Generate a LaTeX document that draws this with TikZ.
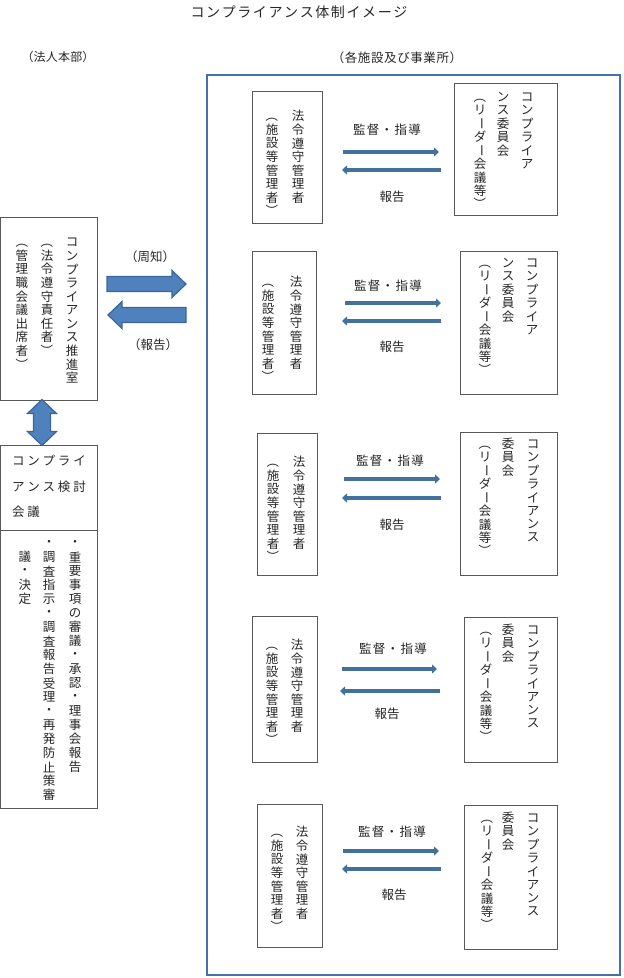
\documentclass[tikz,border=0pt]{standalone}
\usepackage{fontspec}
\setmainfont{Noto Sans CJK JP}
\usetikzlibrary{arrows.meta}
\definecolor{bfill}{HTML}{4F81BD}
\definecolor{bdraw}{HTML}{3A679B}
\definecolor{flowc}{HTML}{41719C}
\definecolor{framec}{HTML}{4472A8}
\definecolor{txt}{HTML}{262626}
\newcommand\vL{\rotatebox[origin=c]{-90}{（}}
\newcommand\vR{\rotatebox[origin=c]{-90}{）}}
\newcommand\vB{\rotatebox[origin=c]{-90}{ー}}
\ExplSyntaxOn
\NewDocumentCommand\vcol{O{13.6pt}m}
 {
  \vtop
   {
    \offinterlineskip
    \tl_map_inline:nn {#2}
     {
      \vbox_to_ht:nn {#1} { \vss \hbox_to_wd:nn {1em} { \hss ##1 \hss } \vss }
     }
   }
 }
\NewDocumentCommand\hsp{O{15pt}m}
 {
  \tl_map_inline:nn {#2} { \hbox_to_wd:nn {#1} { \hss ##1 \hss } }
 }
\ExplSyntaxOff
\begin{document}
\begin{tikzpicture}[x=1pt,y=-1pt,
  every node/.style={text=txt},
  box/.style={draw=black!65,line width=0.8pt,inner sep=0,rectangle},
  vt/.style={inner sep=0,anchor=north,font=\fontsize{12.5}{13}\selectfont},
  lbl/.style={inner sep=0,font=\fontsize{12.5}{13}\selectfont},
  blockarrow/.style={fill=bfill,draw=bdraw,line width=1.2pt,line join=miter},
  flow/.style={draw=flowc,line width=4.5pt,-{Triangle[length=5pt,width=9pt]}},
  framebox/.style={draw=framec,line width=2.5pt}]
\useasboundingbox (0,0) rectangle (624,978);

% titles
\node[inner sep=0,font=\fontsize{14}{16}\selectfont] (title) at (299,12) {\hsp[15.6pt]{コンプライアンス体制イメージ}};
\node[inner sep=0,font=\fontsize{12}{14}\selectfont] (hq) at (58,57) {\hsp[12.2pt]{（法人本部）}};
\node[inner sep=0,font=\fontsize{12.5}{14}\selectfont] (fac) at (397,58) {\hsp[13.1pt]{（各施設及び事業所）}};

% outer frame
\draw[framebox] (207,75) rectangle (620,975);

% headquarters box
\node[box,minimum width=96.5,minimum height=183] (hqbox) at (48.75,308.5) {};
\node[vt] (hq1) at (72,235) {\vcol{コンプライアンス推進室}};
\node[vt] (hq2) at (47,235) {\vcol{\vL 法令遵守責任者\vR}};
\node[vt] (hq3) at (22,235) {\vcol{\vL 管理職会議出席者\vR}};

% block arrows (周知 / 報告)
\draw[blockarrow] (107,276.5) -- (172,276.5) -- (172,270.5) -- (186,284) -- (172,297.5) -- (172,291.5) -- (107,291.5) -- cycle;
\draw[blockarrow] (186,307.5) -- (122,307.5) -- (122,301.5) -- (108,315) -- (122,328.5) -- (122,322.5) -- (186,322.5) -- cycle;
\node[lbl] (shuchi) at (150,257) {（周知）};
\node[lbl] (hokoku0) at (153,345) {（報告）};

% vertical double arrow
\draw[blockarrow] (42,399.5) -- (56.5,413.5) -- (50.5,413.5) -- (50.5,431.5) -- (56.5,431.5) -- (42,445.5) -- (27.5,431.5) -- (33.5,431.5) -- (33.5,413.5) -- (27.5,413.5) -- cycle;

% kentou kaigi box
\node[box,minimum width=96.5,minimum height=85] (kbox) at (48.75,487.5) {};
\node[lbl,anchor=west] (k1) at (10.5,461) {\hsp[15.3pt]{コンプライ}};
\node[lbl,anchor=west] (k2) at (10.5,487) {\hsp[15.3pt]{アンス検討}};
\node[lbl,anchor=west] (k3) at (10.5,512) {\hsp[15.3pt]{会議}};

% duties box
\node[box,minimum width=96.5,minimum height=278] (dbox) at (48.75,669) {};
\node[vt] (d1) at (75,536) {\vcol[14pt]{・重要事項の審議・承認・理事会報告}};
\node[vt] (d2) at (49,536) {\vcol[14pt]{・調査指示・調査報告受理・再発防止策審}};
\node[vt] (d3) at (25,550) {\vcol[14pt]{議・決定}};

% ---- row 1
\node[box,minimum width=70,minimum height=132] (L1) at (287,157) {};
\node[box,minimum width=103,minimum height=132] (R1) at (505.5,149) {};
\node[vt] (L1a) at (298,109) {\vcol{法令遵守管理者}};
\node[vt] (L1b) at (272,109) {\vcol{\vL 施設等管理者\vR}};
\node[vt] (R1a) at (527,90) {\vcol[13.4pt]{コンプライア}};
\node[vt] (R1b) at (503,90) {\vcol[13.4pt]{ンス委員会}};
\node[vt] (R1c) at (480,90) {\vcol[13.4pt]{\vL リ\vB ダ\vB 会議等\vR}};
\coordinate (p1a) at (343,152); \coordinate (p1b) at (439,152);
\coordinate (q1a) at (441,170); \coordinate (q1b) at (342,170);
\draw[flow] (p1a) -- (p1b);
\draw[flow] (q1a) -- (q1b);
\node[lbl] (s1) at (387,130) {\hsp[13.8pt]{監督・指導}};
\node[lbl] (h1) at (392,197) {報告};

% ---- row 2
\node[box,minimum width=64,minimum height=143] (L2) at (284,322.5) {};
\node[box,minimum width=97,minimum height=143] (R2) at (508.5,322.5) {};
\node[vt] (L2a) at (296,275) {\vcol{法令遵守管理者}};
\node[vt] (L2b) at (268,275) {\vcol{\vL 施設等管理者\vR}};
\node[vt] (R2a) at (532,256) {\vcol[13.4pt]{コンプライア}};
\node[vt] (R2b) at (508,256) {\vcol[13.4pt]{ンス委員会}};
\node[vt] (R2c) at (485,256) {\vcol[13.4pt]{\vL リ\vB ダ\vB 会議等\vR}};
\coordinate (p2a) at (345,303); \coordinate (p2b) at (441,303);
\coordinate (q2a) at (441,321); \coordinate (q2b) at (342,321);
\draw[flow] (p2a) -- (p2b);
\draw[flow] (q2a) -- (q2b);
\node[lbl] (s2) at (388,286) {\hsp[13.8pt]{監督・指導}};
\node[lbl] (h2) at (392,347) {報告};

% ---- row 3
\node[box,minimum width=60,minimum height=142] (L3) at (287,504) {};
\node[box,minimum width=97,minimum height=143] (R3) at (508.5,503.5) {};
\node[vt] (L3a) at (299,455) {\vcol{法令遵守管理者}};
\node[vt] (L3b) at (273,455) {\vcol{\vL 施設等管理者\vR}};
\node[vt] (R3a) at (533,437) {\vcol[13.4pt]{コンプライアンス}};
\node[vt] (R3b) at (508,437) {\vcol[13.4pt]{委員会}};
\node[vt] (R3c) at (485,437) {\vcol[13.4pt]{\vL リ\vB ダ\vB 会議等\vR}};
\coordinate (p3a) at (344,479); \coordinate (p3b) at (440,479);
\coordinate (q3a) at (441,498); \coordinate (q3b) at (342,498);
\draw[flow] (p3a) -- (p3b);
\draw[flow] (q3a) -- (q3b);
\node[lbl] (s3) at (390,461) {\hsp[13.8pt]{監督・指導}};
\node[lbl] (h3) at (392,525) {報告};

% ---- row 4
\node[box,minimum width=65,minimum height=146] (L4) at (284.5,689) {};
\node[box,minimum width=93,minimum height=145] (R4) at (510.5,689.5) {};
\node[vt] (L4a) at (297,638) {\vcol{法令遵守管理者}};
\node[vt] (L4b) at (272,638) {\vcol{\vL 施設等管理者\vR}};
\node[vt] (R4a) at (533,623) {\vcol[13.4pt]{コンプライアンス}};
\node[vt] (R4b) at (508,623) {\vcol[13.4pt]{委員会}};
\node[vt] (R4c) at (486,623) {\vcol[13.4pt]{\vL リ\vB ダ\vB 会議等\vR}};
\coordinate (p4a) at (342,669); \coordinate (p4b) at (437,669);
\coordinate (q4a) at (440,691); \coordinate (q4b) at (340,691);
\draw[flow] (p4a) -- (p4b);
\draw[flow] (q4a) -- (q4b);
\node[lbl] (s4) at (393,649) {\hsp[13.8pt]{監督・指導}};
\node[lbl] (h4) at (387,714) {報告};

% ---- row 5
\node[box,minimum width=65,minimum height=143] (L5) at (289.5,875.5) {};
\node[box,minimum width=93,minimum height=144] (R5) at (510.5,877) {};
\node[vt] (L5a) at (302,825) {\vcol{法令遵守管理者}};
\node[vt] (L5b) at (277,825) {\vcol{\vL 施設等管理者\vR}};
\node[vt] (R5a) at (533,811) {\vcol[13.4pt]{コンプライアンス}};
\node[vt] (R5b) at (508,811) {\vcol[13.4pt]{委員会}};
\node[vt] (R5c) at (487,811) {\vcol[13.4pt]{\vL リ\vB ダ\vB 会議等\vR}};
\coordinate (p5a) at (343,851); \coordinate (p5b) at (439,851);
\coordinate (q5a) at (441,869); \coordinate (q5b) at (342,869);
\draw[flow] (p5a) -- (p5b);
\draw[flow] (q5a) -- (q5b);
\node[lbl] (s5) at (392,832) {\hsp[13.8pt]{監督・指導}};
\node[lbl] (h5) at (394,895) {報告};
\end{tikzpicture}
\end{document}
